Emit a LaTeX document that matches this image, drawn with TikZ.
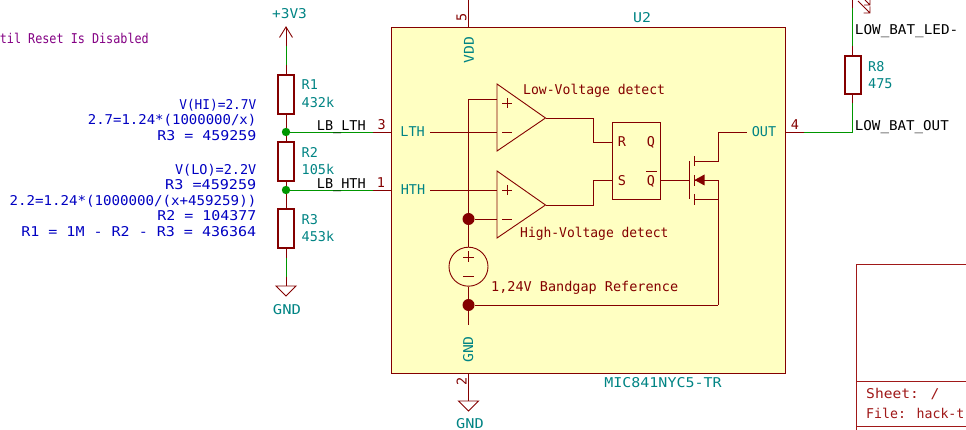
\documentclass[tikz,border=0pt]{standalone}
\usepackage{fontspec}
\setmainfont{DejaVu Sans Mono}
\definecolor{wiregreen}{HTML}{009600}
\definecolor{symred}{HTML}{840000}
\definecolor{bodyfill}{HTML}{FFFFC2}
\definecolor{refteal}{HTML}{008484}
\definecolor{noteblue}{HTML}{0000C2}
\definecolor{notepurple}{HTML}{840084}
\definecolor{frame}{HTML}{A01818}
\tikzset{
  x=1pt,y=-1pt,
  wirel/.style={wiregreen,line width=0.9pt},
  pinl/.style={symred,line width=0.9pt},
  symbody/.style={symred,line width=0.9pt},
  resbox/.style={draw=symred,line width=1.6pt,minimum width=16pt,inner sep=0pt},
  dotj/.style={circle,inner sep=0pt,minimum size=#1},
  lbl/.style={font=\fontsize{13.5}{15}\selectfont,inner sep=0pt,text height=9.85pt,text depth=0pt},
  tealt/.style={lbl,text=refteal},
  redt/.style={lbl,text=symred},
  blackt/.style={lbl,text=black},
  bluet/.style={lbl,text=noteblue,anchor=east},
  framet/.style={lbl,text=frame,anchor=west},
}
\begin{document}
\begin{tikzpicture}
\useasboundingbox (0,0) rectangle (966,430);
\clip (0,0) rectangle (966,430);
\fill[white] (0,0) rectangle (966,430);
% IC body
\node[draw=symred,fill=bodyfill,line width=0.9pt,minimum width=394pt,minimum height=346pt,inner sep=0pt] (ic) at (588.6,200) {};
% power pins
\coordinate (vddtop) at (468.5,0);
\draw[pinl] (vddtop) -- (468.5,27);
\node[redt,rotate=90] (pfive) at (461.5,17) {5};
\node[tealt,rotate=90,xscale=1.09] (vdd) at (469,50) {VDD};
\node[tealt,xscale=1.1] (utwo) at (642,18) {U2};
\node[tealt,xscale=1.11] (partname) at (663,382.5) {MIC841NYC5-TR};
% left network
\node[resbox,minimum height=38.5pt] (rone) at (286,94.5) {};
\node[resbox,minimum height=38.5pt] (rtwo) at (286,161.5) {};
\node[resbox,minimum height=38.5pt] (rthree) at (286,228.5) {};
\coordinate (vcc) at (286,27);
\coordinate (jlth) at (286,132);
\coordinate (jhth) at (286,190);
\coordinate (gndl) at (286,286);
\draw[wirel] (286,46) -- (286,65);
\draw[pinl] (vcc) -- (286,46);
\draw[pinl] (rone.north) -- (286,65);
\draw[pinl] (rone.south) -- (jlth);
\draw[pinl] (jlth) -- (rtwo.north);
\draw[pinl] (rtwo.south) -- (jhth);
\draw[pinl] (jhth) -- (rthree.north);
\draw[wirel] (286,258) -- (286,277);
\draw[pinl] (rthree.south) -- (286,258);
\draw[pinl] (286,277) -- (gndl);
\draw[pinl] (279.5,37.5) -- (vcc) -- (292.5,37.5);
\draw[pinl,line join=miter] (276,286) -- (296,286) -- (286,296) -- cycle;
\draw[wirel] (jlth) -- (373,132);
\draw[wirel] (jhth) -- (373,190);
\draw[pinl] (373,132) -- (391.6,132);
\draw[pinl] (373,190) -- (391.6,190);
\fill[wiregreen] (jlth) circle (4.2);
\fill[wiregreen] (jhth) circle (4.2);
\node[tealt,xscale=1.07] (vcct) at (289.5,13.5) {+3V3};
\node[tealt,xscale=1.15] (gndt) at (287,310) {GND};
\node[tealt,anchor=west] (ronet) at (301.5,85) {R1};
\node[tealt,anchor=west] (ronev) at (301.5,102.7) {432k};
\node[tealt,anchor=west] (rtwot) at (301.5,152.5) {R2};
\node[tealt,anchor=west] (rtwov) at (301.5,170) {105k};
\node[tealt,anchor=west] (rthreet) at (301.5,220) {R3};
\node[tealt,anchor=west] (rthreev) at (301.5,237) {453k};
\node[blackt,anchor=west] (lblth) at (316.7,125.7) {LB\_LTH};
\node[blackt,anchor=west] (lbhth) at (316.7,183.3) {LB\_HTH};
\node[redt] (pthree) at (381.7,125) {3};
\node[redt] (pone) at (381,183) {1};
% notes
\node[lbl,text=notepurple,anchor=east,xscale=.873] (purple) at (149,38.5) {til Reset Is Disabled};
\node[bluet,xscale=.947] (na) at (256.5,104.7) {V(HI)=2.7V};
\node[bluet,xscale=1.036] (nb) at (256.5,120) {2.7=1.24*(1000000/x)};
\node[bluet,xscale=1.107] (nc) at (256.5,135.3) {R3 = 459259};
\node[bluet,xscale=1] (nd) at (256.5,169.3) {V(LO)=2.2V};
\node[bluet,xscale=1.12] (ne) at (256.5,184.7) {R3 =459259};
\node[bluet,xscale=1.047] (nf) at (256.5,200.3) {2.2=1.24*(1000000/(x+459259))};
\node[bluet,xscale=1.107] (ng) at (256.5,215.7) {R2 = 104377};
\node[bluet,xscale=1.112] (nh) at (256.5,231.3) {R1 = 1M - R2 - R3 = 436364};
% IC internals
\node[tealt] (lth) at (412.6,131.7) {LTH};
\node[tealt] (hth) at (413,190) {HTH};
\coordinate (lthpin) at (430,132);
\coordinate (hthpin) at (430,190);
\draw[symbody] (497,84) -- (545.5,118) -- (497,151) -- cycle;
\draw[symbody] (497,171) -- (545.5,205) -- (497,238) -- cycle;
\draw[symbody] (lthpin) -- (497,132);
\draw[symbody] (hthpin) -- (497,190);
\draw[symbody] (497,99) -- (468.5,99) -- (468.5,247);
\node[dotj=12pt,fill=symred] (jref) at (468.5,219) {};
\node[dotj=12pt,fill=symred] (jgnd) at (468.5,305) {};
\draw[symbody] (jref) -- (497,219);
\foreach \py in {103,190}{\draw[symbody] (502,\py) -- (512,\py) (507,\py-5) -- (507,\py+5);}
\foreach \py in {132,219}{\draw[symbody] (502,\py) -- (512,\py);}
\node[redt,anchor=west,xscale=.97] (lowv) at (523,90) {Low-Voltage detect};
\node[redt,anchor=west,xscale=.96] (highv) at (520,233) {High-Voltage detect};
% flip flop
\node[draw=symred,line width=0.9pt,minimum width=48pt,minimum height=76.6pt,inner sep=0pt] (ff) at (636.7,161) {};
\node[redt] (rr) at (622,142) {R};
\node[redt] (ss) at (622,180.7) {S};
\node[redt] (qq) at (651,142) {Q};
\node[redt] (qb) at (651,181) {Q};
\draw[symred,line width=0.9pt] (646,171.7) -- (656.7,171.7);
\draw[symbody] (545.5,118) -- (593.3,118) -- (593.3,142) -- (612.7,142);
\draw[symbody] (545.5,205) -- (593.3,205) -- (593.3,180) -- (612.7,180);
% mosfet
\draw[symbody] (660.7,180) -- (689.3,180);
\draw[symbody] (689.3,161) -- (689.3,199.5);
\draw[symbody] (694.3,156) -- (694.3,166);
\draw[symbody] (694.3,175) -- (694.3,186);
\draw[symbody] (694.3,194) -- (694.3,205);
\node[tealt] (out) at (764,132) {OUT};
\coordinate (outpin) at (746.7,132.5);
\draw[symbody] (694.3,161) -- (718,161) -- (718,132.5) -- (outpin);
\draw[symbody] (694.3,180) -- (718,180) -- (718,305);
\draw[symbody] (694.3,199) -- (718,199);
\fill[symred] (694.5,180) -- (704.5,174.5) -- (704.5,185.5) -- cycle;
% reference
\node[draw=symred,line width=0.9pt,circle,minimum size=39pt,inner sep=0pt] (vref) at (468.5,266.7) {};
\draw[symbody] (463,257) -- (474,257) (468.5,251.5) -- (468.5,262.5);
\draw[symbody] (463,276.5) -- (474,276.5);
\draw[symbody] (jgnd) -- (718,305);
\draw[symbody] (vref.south) -- (jgnd);
\draw[symbody] (jgnd) -- (468.5,325);
\node[redt,anchor=west] (bandgap) at (491,286.7) {1,24V Bandgap Reference};
\node[tealt,rotate=90,xscale=1.09] (gndi) at (468.3,349.5) {GND};
\draw[pinl] (468.5,373) -- (468.5,401);
\node[redt,rotate=90] (ptwo) at (461.7,381.7) {2};
\draw[pinl,line join=miter] (458.5,401) -- (478.5,401) -- (468.5,411) -- cycle;
\node[tealt,xscale=1.13] (gndb) at (470,423.8) {GND};
% right side
\node[resbox,minimum height=38.5pt] (reight) at (852.7,75) {};
\draw[pinl] (785.6,132) -- (804,132);
\node[redt] (pfour) at (795,125) {4};
\draw[wirel] (804,132) -- (852.7,132) -- (852.7,103);
\draw[pinl] (reight.south) -- (852.7,103);
\draw[pinl] (reight.north) -- (852.7,46);
\draw[wirel] (852.7,46) -- (852.7,8);
\draw[pinl] (852.7,8) -- (852.7,0);
\draw[pinl] (858,1) -- (870,13) (863.5,13) -- (870,13) -- (870,6.5);
\draw[pinl] (865,0) -- (870,5) (864,5) -- (870,5) -- (870,0);
\node[blackt,anchor=west,xscale=1.06] (ledt) at (854.7,30) {LOW\_BAT\_LED-};
\node[blackt,anchor=west,xscale=1.05] (outt) at (854.7,125.5) {LOW\_BAT\_OUT};
\node[tealt,anchor=west] (reightt) at (868,66.7) {R8};
\node[tealt,anchor=west] (reightv) at (868,83.5) {475};
% title block
\draw[frame,line width=0.9pt] (966,264) -- (856.5,264) -- (856.5,430);
\draw[frame,line width=0.9pt] (856.5,381) -- (966,381);
\draw[frame,line width=0.9pt] (856.5,426.7) -- (966,426.7);
\node[framet,xscale=1.08] (sheet) at (866,393.3) {Sheet: /};
\node[framet,xscale=.98] (file) at (866,413.3) {File: hack-t};
\end{tikzpicture}
\end{document}
